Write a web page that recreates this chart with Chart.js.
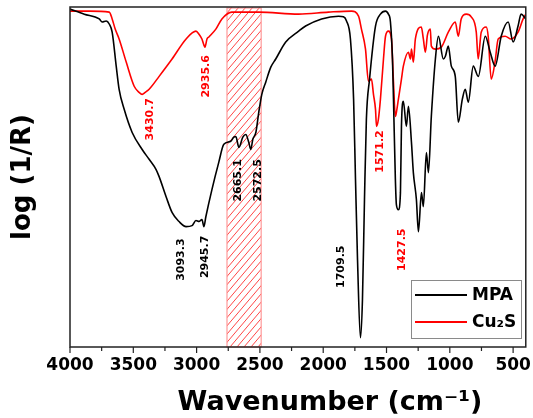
<!DOCTYPE html>
<html lang="en">
<head>
    <meta charset="UTF-8">
    <title>FTIR MPA / Cu2S</title>
    <script src="https://cdn.jsdelivr.net/npm/chart.js"></script>
    <style>
        body { margin: 0; background: #fff; }
        canvas { display: block; }
    </style>
</head>
<body>
    <canvas id="irChart" width="533" height="418"></canvas>

    <script>
        // Wavenumber ticks (cm-1)
        const xTicksMajor = [4000, 3500, 3000, 2500, 2000, 1500, 1000, 500];

        // MPA spectrum (black), arbitrary units
        const mpaWn = [4000, 3887, 3769, 3746, 3714, 3690, 3667, 3635, 3612, 3572, 3509, 3430, 3375, 3320, 3296,
            3241, 3193, 3139, 3083, 3036, 3005, 2981, 2958, 2942, 2927, 2879, 2825, 2785, 2730, 2706, 2690, 2666,
            2635, 2611, 2588, 2572, 2556, 2532, 2509, 2485, 2454, 2414, 2375, 2296, 2194, 2139, 2013, 1879, 1840,
            1816, 1785, 1760, 1745, 1729, 1706, 1690, 1674, 1659, 1634, 1587, 1548, 1508, 1485, 1469, 1453, 1445,
            1430, 1422, 1406, 1390, 1382, 1367, 1343, 1327, 1303, 1288, 1264, 1248, 1224, 1209, 1185, 1169, 1146,
            1114, 1090, 1051, 1035, 1012, 988, 957, 933, 901, 878, 854, 815, 775, 720, 681, 642, 594, 539, 500,
            461, 437, 400];
        const mpaVal = [99.4, 97.9, 96.5, 95.6, 95.9, 95.0, 92.6, 82.6, 75.8, 69.9, 63.1, 58.1, 55.2, 52.2, 50.1,
            44.2, 39.5, 36.9, 35.4, 35.7, 37.2, 36.9, 37.5, 35.4, 38.3, 46.3, 54.3, 59.6, 60.5, 61.7, 61.9, 58.7,
            61.7, 62.5, 60.2, 58.1, 61.1, 63.1, 69.0, 74.3, 77.9, 82.3, 84.7, 89.7, 92.9, 94.4, 96.5, 97.3, 97.1,
            95.9, 90.6, 72.9, 49.3, 25.7, 2.7, 13.9, 43.4, 67.0, 78.8, 94.4, 97.9, 98.8, 97.9, 95.6, 84.7, 72.9,
            49.3, 41.9, 40.4, 45.4, 64.9, 72.3, 64.9, 70.8, 60.2, 51.3, 43.4, 33.9, 45.4, 41.3, 57.2, 51.3, 67.8,
            84.7, 91.4, 84.7, 85.5, 88.5, 82.6, 79.6, 66.1, 72.9, 75.8, 72.0, 82.6, 79.6, 91.4, 86.7, 82.6, 91.4,
            95.6, 89.7, 94.4, 97.9, 96.5];

        // Cu2S spectrum (red)
        const cuWn = [4000, 3848, 3690, 3667, 3643, 3612, 3556, 3493, 3454, 3430, 3406, 3375, 3296, 3194, 3083,
            3005, 2981, 2958, 2942, 2934, 2918, 2903, 2848, 2800, 2722, 2509, 2194, 1958, 1776, 1721, 1698, 1666,
            1643, 1619, 1603, 1587, 1579, 1564, 1548, 1524, 1508, 1485, 1461, 1445, 1430, 1422, 1406, 1382, 1367,
            1327, 1311, 1303, 1288, 1272, 1225, 1209, 1193, 1177, 1154, 1146, 1114, 1067, 1012, 957, 933, 910, 870,
            831, 791, 776, 752, 713, 697, 673, 642, 618, 563, 516, 461, 421, 400];
        const cuVal = [98.8, 98.8, 98.5, 96.5, 93.5, 90.6, 83.8, 76.7, 74.9, 74.3, 74.9, 75.8, 79.6, 84.7, 90.6,
            92.9, 92.0, 90.6, 88.8, 88.2, 90.6, 91.2, 93.5, 96.5, 98.5, 98.5, 97.9, 98.5, 98.8, 97.3, 93.5, 87.6,
            78.2, 78.8, 74.3, 69.9, 64.9, 67.0, 72.9, 84.7, 91.4, 92.9, 90.6, 77.9, 67.8, 69.0, 72.9, 78.8, 82.6,
            86.7, 84.7, 87.6, 83.8, 90.6, 94.1, 90.6, 86.7, 91.7, 93.5, 88.5, 87.6, 88.2, 92.6, 95.6, 91.4, 96.5, 97.9,
            97.1, 92.6, 84.7, 92.6, 94.1, 91.4, 78.8, 84.1, 90.6, 91.4, 90.6, 92.6, 96.5, 97.9];

        // Peak labels: text, anchor wavenumber, anchor height, colour
        const peakText = ['3430.7', '2935.6', '3093.3', '2945.7', '2665.1', '2572.5', '1709.5', '1571.2', '1427.5'];
        const peakWn = [3365, 2922, 3119, 2929, 2674, 2517, 1859, 1552, 1380];
        const peakVal = [67.0, 79.6, 25.7, 26.5, 49.0, 49.0, 23.6, 57.5, 28.6];
        const peakColor = ['red', 'red', '#000', '#000', '#000', '#000', '#000', 'red', 'red'];

        // Hatched band (cm-1)
        const bandFrom = 2760;
        const bandTo = 2490;

        const FONT = "'DejaVu Sans', sans-serif";

        const toPoints = (xs, ys) => xs.map((x, i) => ({ x: x, y: ys[i] }));

        const decorPlugin = {
            id: 'decor',
            beforeDatasetsDraw(chart) {
                const { ctx, chartArea: a, scales: { x } } = chart;
                const x1 = x.getPixelForValue(bandFrom);
                const x2 = x.getPixelForValue(bandTo);
                const h = a.bottom - a.top;
                ctx.save();
                ctx.beginPath();
                ctx.rect(x1, a.top, x2 - x1, h);
                ctx.clip();
                ctx.strokeStyle = 'rgb(255,70,70)';
                ctx.lineWidth = 1;
                ctx.globalAlpha = 1;
                ctx.globalCompositeOperation = 'source-over';
                ctx.beginPath();
                for (let d = -h; d < (x2 - x1) + 2; d += 7) {
                    ctx.moveTo(x1 + d, a.bottom);
                    ctx.lineTo(x1 + d + h * 0.85, a.top);
                }
                ctx.stroke();
                ctx.restore();
                ctx.save();
                ctx.strokeStyle = '#ff9a9a';
                ctx.lineWidth = 1.2;
                ctx.strokeRect(x1, a.top + 1, x2 - x1, h - 1);
                ctx.restore();
            },
            afterDraw(chart) {
                const { ctx, chartArea: a, scales: { x, y } } = chart;
                ctx.save();

                // frame
                ctx.strokeStyle = '#222';
                ctx.lineWidth = 1.5;
                ctx.strokeRect(a.left, a.top, a.right - a.left, a.bottom - a.top);

                // x ticks, major every 500, minor in between
                ctx.lineWidth = 1.2;
                x.ticks.forEach(t => {
                    const px = x.getPixelForValue(t.value);
                    const len = t.value % 500 === 0 ? 6 : 4;
                    ctx.beginPath();
                    ctx.moveTo(px, a.bottom);
                    ctx.lineTo(px, a.bottom + len);
                    ctx.stroke();
                });

                // peak labels
                ctx.font = 'bold 11px ' + FONT;
                ctx.textAlign = 'center';
                ctx.textBaseline = 'middle';
                peakText.forEach((txt, i) => {
                    ctx.save();
                    ctx.translate(x.getPixelForValue(peakWn[i]), y.getPixelForValue(peakVal[i]));
                    ctx.rotate(-Math.PI / 2);
                    ctx.fillStyle = peakColor[i];
                    ctx.fillText(txt, 0, 0);
                    ctx.restore();
                });

                // legend box
                const lx = 411, ly = 280, lw = 110, lh = 58;
                ctx.fillStyle = '#fff';
                ctx.fillRect(lx, ly, lw, lh);
                ctx.strokeStyle = '#8a8a8a';
                ctx.lineWidth = 1;
                ctx.strokeRect(lx + 0.5, ly + 0.5, lw, lh);
                chart.data.datasets.forEach((ds, i) => {
                    const yy = ly + 15 + i * 27;
                    ctx.strokeStyle = ds.borderColor;
                    ctx.lineWidth = 2;
                    ctx.beginPath();
                    ctx.moveTo(lx + 4, yy);
                    ctx.lineTo(lx + 56, yy);
                    ctx.stroke();
                    ctx.fillStyle = '#000';
                    ctx.font = 'bold 17px ' + FONT;
                    ctx.textAlign = 'left';
                    ctx.textBaseline = 'middle';
                    ctx.fillText(ds.label, lx + 61, yy + 1);
                });

                // x axis title
                ctx.fillStyle = '#000';
                ctx.font = 'bold 27px ' + FONT;
                ctx.textAlign = 'center';
                ctx.textBaseline = 'alphabetic';
                ctx.fillText('Wavenumber (cm\u207B\u00B9)', 330, 410);

                ctx.restore();
            }
        };

        const irChart = new Chart(document.getElementById('irChart'), {
            type: 'line',
            data: {
                datasets: [{
                    label: 'MPA',
                    data: toPoints(mpaWn, mpaVal),
                    borderColor: '#000',
                    borderWidth: 1.6,
                    pointRadius: 0,
                    cubicInterpolationMode: 'monotone',
                    fill: false
                }, {
                    label: 'Cu\u2082S',
                    data: toPoints(cuWn, cuVal),
                    borderColor: '#ff0000',
                    borderWidth: 1.6,
                    pointRadius: 0,
                    cubicInterpolationMode: 'monotone',
                    fill: false
                }]
            },
            options: {
                responsive: false,
                animation: false,
                layout: { padding: { top: 7, right: 5, left: 0, bottom: 0 } },
                plugins: {
                    legend: { display: false },
                    tooltip: { enabled: false }
                },
                scales: {
                    x: {
                        type: 'linear',
                        reverse: true,
                        min: 400,
                        max: 4000,
                        afterFit: s => { s.height = 71; },
                        grid: { display: true, drawOnChartArea: false, drawTicks: true, tickLength: 6, color: 'rgba(0,0,0,0)' },
                        border: { display: false },
                        ticks: {
                            stepSize: 250,
                            includeBounds: false,
                            autoSkip: false,
                            maxRotation: 0,
                            padding: 2,
                            color: '#000',
                            font: { family: FONT, size: 17, weight: 'bold' },
                            callback: v => xTicksMajor.includes(v) ? String(v) : ''
                        }
                    },
                    y: {
                        min: 0,
                        max: 100,
                        afterFit: s => { s.width = 70; },
                        grid: { display: false },
                        border: { display: false },
                        ticks: { display: false },
                        title: {
                            display: true,
                            text: 'log (1/R)',
                            color: '#000',
                            padding: 8,
                            font: { family: FONT, size: 26, weight: 'bold' }
                        }
                    }
                }
            },
            plugins: [decorPlugin]
        });
    </script>
</body>
</html>
